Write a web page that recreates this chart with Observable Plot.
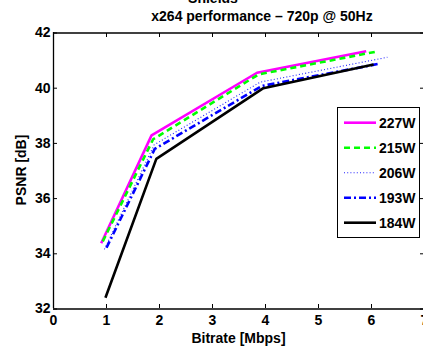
<!DOCTYPE html>
<html>
<head>
<meta charset="utf-8">
<script src="https://cdn.jsdelivr.net/npm/d3@7"></script>
<script src="https://cdn.jsdelivr.net/npm/@observablehq/plot@0.6"></script>
<style>
  html, body { margin: 0; padding: 0; background: white; }
  #chart svg text { font-family: 'Liberation Sans', Arial, sans-serif; font-weight: bold; font-size: 14px; }
</style>
</head>
<body>
<div id="chart"></div>
<script>
const titleLines = ["Shields", "x264 performance \u2013 720p @ 50Hz"];
const xLabel = "Bitrate [Mbps]";
const yLabel = "PSNR [dB]";
const series = ["227W", "215W", "206W", "193W", "184W"];
const bitrates = [
  [0.90, 1.85, 3.84, 5.90],
  [0.93, 1.88, 3.87, 6.13],
  [0.96, 1.90, 3.90, 6.30],
  [1.00, 1.91, 3.93, 6.13],
  [0.98, 1.94, 3.96, 6.04]
];
const psnrs = [
  [34.38, 38.29, 40.56, 41.34],
  [34.45, 38.15, 40.50, 41.34],
  [34.16, 37.95, 40.22, 41.12],
  [34.22, 37.80, 40.08, 40.88],
  [32.41, 37.44, 40.00, 40.86]
];
const xTicks = [0, 1, 2, 3, 4, 5, 6, 7];
const yTicks = [32, 34, 36, 38, 40, 42];

const colors = ["#ff00ff", "#00ff00", "#2020ff", "#0000ff", "#000000"];
const widths = [2.6, 2.6, 1.1, 2.6, 2.6];
const dashes = [null, "6,4", "1,2.2", "7,3,2,3", null];

const rows = series.map((s, i) => bitrates[i].map((b, j) => ({series: s, bitrate: b, psnr: psnrs[i][j]})));

const lineMarks = rows.map((r, i) => Plot.line(r, {
  x: "bitrate", y: "psnr",
  stroke: colors[i], strokeWidth: widths[i],
  strokeDasharray: dashes[i], strokeLinejoin: "miter", strokeLinecap: "butt"
}));

const chart = Plot.plot({
  width: 423,
  height: 349,
  marginLeft: 53,
  marginRight: 0,
  marginTop: 32,
  marginBottom: 41,
  style: {fontFamily: "'Liberation Sans', Arial, sans-serif", fontSize: "14px", fontWeight: "bold", background: "white", color: "black"},
  x: {domain: [0, 7], range: [53, 424]},
  y: {domain: [32, 42], range: [308.5, 32.5]},
  marks: [
    ...lineMarks,
    Plot.ruleX([0, 7], {stroke: "black", strokeWidth: 1.3}),
    Plot.ruleY([32, 42], {stroke: "black", strokeWidth: 1.3}),
    Plot.axisX(xTicks, {anchor: "bottom", tickSize: -4, tickFormat: () => "", label: null, strokeWidth: 1}),
    Plot.axisX(xTicks, {anchor: "top", tickSize: -4, tickFormat: () => "", label: null, strokeWidth: 1}),
    Plot.axisY(yTicks, {anchor: "left", tickSize: -4, tickFormat: () => "", label: null, strokeWidth: 1}),
    Plot.axisY(yTicks, {anchor: "right", tickSize: -4, tickFormat: () => "", label: null, strokeWidth: 1}),
    Plot.axisX(xTicks, {anchor: "bottom", tickSize: 0, tickPadding: 7, label: null, fill: "black"}),
    Plot.axisY(yTicks, {anchor: "left", tickSize: 0, tickPadding: 3, label: null, fill: "black"})
  ]
});

const svg = d3.select(chart);
svg.style("overflow", "visible");
const cx = 238.5;
svg.append("text").attr("x", cx).attr("y", 343).attr("text-anchor", "middle")
  .attr("fill", "black").text(xLabel);
svg.append("text").attr("transform", "translate(26,170) rotate(-90)").attr("text-anchor", "middle")
  .attr("fill", "black").text(yLabel);
svg.append("text").attr("x", 213).attr("y", 3).attr("text-anchor", "middle")
  .attr("fill", "black").text(titleLines[0]);
svg.append("text").attr("x", 262).attr("y", 21).attr("text-anchor", "middle")
  .attr("fill", "black").text(titleLines[1]);

const lg = svg.append("g");
lg.append("rect").attr("x", 337.5).attr("y", 107.5).attr("width", 82).attr("height", 130)
  .attr("fill", "white").attr("stroke", "black").attr("stroke-width", 1);
series.forEach((s, i) => {
  const yy = 122.7 + i * 25;
  lg.append("line").attr("x1", 344).attr("x2", 376).attr("y1", yy).attr("y2", yy)
    .attr("stroke", colors[i]).attr("stroke-width", widths[i])
    .attr("stroke-dasharray", dashes[i]);
  lg.append("text").attr("x", 379).attr("y", yy).attr("dy", "0.36em").attr("text-anchor", "start")
    .attr("fill", "black").text(s);
});

document.getElementById("chart").appendChild(chart);
</script>
</body>
</html>
